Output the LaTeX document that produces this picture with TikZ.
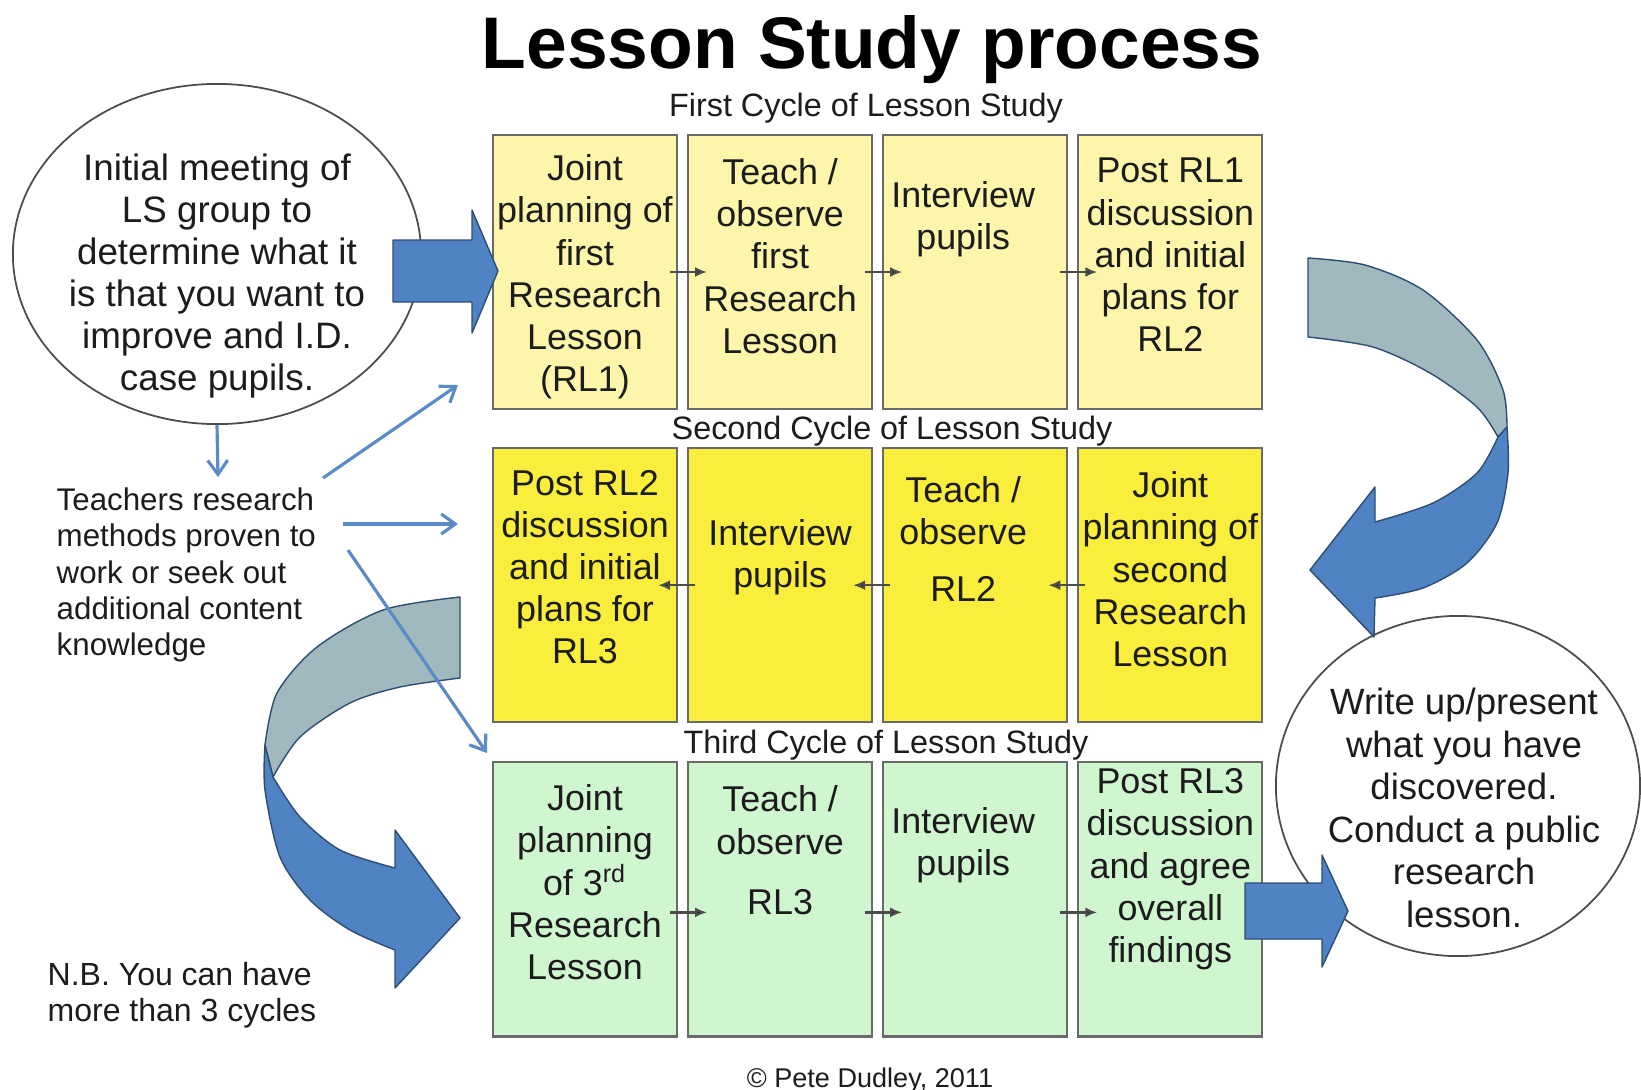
\documentclass[tikz,border=0pt]{standalone}
\usepackage{fontspec}
\setmainfont{Liberation Sans}
\usepackage{tikz}
\usetikzlibrary{positioning, shapes.geometric, arrows.meta}

\definecolor{paleyellow}{HTML}{FCF5AA}
\definecolor{brightyellow}{HTML}{F9EE3C}
\definecolor{palegreen}{HTML}{D0F6D0}
\definecolor{boxgray}{HTML}{6A6A6A}
\definecolor{arrowblue}{HTML}{4F83C4}
\definecolor{arrowedge}{HTML}{2F4C72}
\definecolor{backblue}{HTML}{A0B9BE}
\definecolor{feedblue}{HTML}{5A8BC6}
\definecolor{inkgray}{HTML}{1C1C1C}

\begin{document}
\begin{tikzpicture}[x=0.01cm, y=-0.01cm,
        box/.style={rectangle, draw=boxgray, line width=0.6pt, minimum width=1.84cm, minimum height=2.74cm, inner sep=0pt, outer sep=0pt},
        boxtext/.style={align=center, text=inkgray, inner sep=0pt, font=\fontsize{10.2}{12}\selectfont},
        cycletext/.style={text=inkgray, inner sep=0pt, font=\fontsize{9.2}{11}\selectfont},
        bubble/.style={ellipse, draw=black!70, line width=0.5pt, fill=white, inner sep=0pt},
        bubbletext/.style={align=center, text=inkgray, inner sep=0pt, font=\fontsize{10.4}{12.1}\selectfont},
        notetext/.style={align=left, text=inkgray, inner sep=0pt, anchor=west},
        stepline/.style={draw=black!70, line width=0.65pt, -{Latex[length=0.12cm, width=0.10cm, fill=black!90]}, shorten <=-0.07cm, shorten >=-0.19cm},
        feed/.style={draw=feedblue, line width=0.9pt, -{Straight Barb[length=0.14cm, width=0.2cm]}},
        blockarrow/.style={fill=arrowblue, draw=arrowedge, line width=0.4pt, line join=round},
        backband/.style={fill=backblue, draw=arrowedge, line width=0.4pt, line join=round}]

        \fill[white] (0, 0) rectangle (1641, 1090);
        \useasboundingbox (0, 0) rectangle (1641, 1090);

        \node[font=\fontsize{20.8}{24}\selectfont\bfseries, inner sep=0pt] (title) at (872, 50) {Lesson Study process};

        \node[bubble, minimum width=4.08cm, minimum height=3.40cm] (lell) at (217, 254) {};
        \node[bubble, minimum width=3.64cm, minimum height=3.40cm] (rell) at (1458, 786) {};
        \node[bubbletext, font=\fontsize{10.45}{11.95}\selectfont] (lelltext) at ([yshift=-0.22cm]lell.center) {Initial meeting of\\LS group to\\determine what it\\is that you want to\\improve and I.D.\\case pupils.};
        \node[bubbletext] (relltext) at ([xshift=0.06cm, yshift=-0.22cm]rell.center) {Write up/present\\what you have\\discovered.\\Conduct a public\\research\\lesson.};

        \draw[backband] plot[smooth] coordinates {(1308, 258) (1365, 265) (1423, 290) (1477, 340) (1503, 390) (1507, 427)} -- (1498, 437) -- plot[smooth] coordinates {(1498, 437) (1477, 407) (1430, 373) (1373, 347) (1308, 337)} -- cycle;
        \draw[blockarrow] plot[smooth] coordinates {(1507, 427) (1508, 473) (1497, 523) (1467, 563) (1423, 588) (1375, 598)} -- (1374, 637) -- (1310, 570) -- (1375, 487) -- plot[smooth] coordinates {(1375, 522) (1433, 503) (1477, 473) (1498, 437)} -- cycle;

        \draw[backband] plot[smooth] coordinates {(460, 597) (383, 610) (317, 647) (277, 693) (265, 745)} -- (273, 777) -- plot[smooth] coordinates {(273, 777) (300, 737) (350, 703) (400, 687) (460, 678)} -- cycle;
        \draw[blockarrow] plot[smooth] coordinates {(265, 745) (265, 790) (280, 857) (310, 900) (350, 930) (395, 950)} -- (395, 988) -- (460, 918) -- (395, 830) -- plot[smooth] coordinates {(395, 868) (340, 850) (300, 817) (273, 777)} -- cycle;

        \node[box, fill=paleyellow] (r1c1) at (585, 272) {};
        \node[box, fill=paleyellow] (r1c2) [right = 0.11cm of r1c1] {};
        \node[box, fill=paleyellow] (r1c3) [right = 0.11cm of r1c2] {};
        \node[box, fill=paleyellow] (r1c4) [right = 0.11cm of r1c3] {};
        \node[box, fill=brightyellow] (r2c1) [below = 0.39cm of r1c1] {};
        \node[box, fill=brightyellow] (r2c2) [right = 0.11cm of r2c1] {};
        \node[box, fill=brightyellow] (r2c3) [right = 0.11cm of r2c2] {};
        \node[box, fill=brightyellow] (r2c4) [right = 0.11cm of r2c3] {};
        \node[box, fill=palegreen] (r3c1) [below = 0.40cm of r2c1] {};
        \node[box, fill=palegreen] (r3c2) [right = 0.11cm of r3c1] {};
        \node[box, fill=palegreen] (r3c3) [right = 0.11cm of r3c2] {};
        \node[box, fill=palegreen] (r3c4) [right = 0.11cm of r3c3] {};

        \node[cycletext] (cycle1) at (866, 108) {First Cycle of Lesson Study};
        \node[cycletext] (cycle2) at (892, 431) {Second Cycle of Lesson Study};
        \node[cycletext] (cycle3) at (886, 745) {Third Cycle of Lesson Study};

        \node[boxtext] (t11) at ([yshift=-1.42cm]r1c1.north) {Joint\\planning of\\first\\Research\\Lesson\\(RL1)};
        \node[boxtext] (t12) at ([yshift=-1.21cm]r1c2.north) {Teach /\\observe\\first\\Research\\Lesson};
        \node[boxtext] (t13) at ([xshift=-0.12cm, yshift=-0.84cm]r1c3.north) {Interview\\pupils};
        \node[boxtext] (t14) at ([yshift=-1.20cm]r1c4.north) {Post RL1\\discussion\\and initial\\plans for\\RL2};
        \node[boxtext] (t21) at ([yshift=-1.19cm]r2c1.north) {Post RL2\\discussion\\and initial\\plans for\\RL3};
        \node[boxtext] (t22) at ([yshift=-1.09cm]r2c2.north) {Interview\\pupils};
        \node[boxtext] (t23) at ([xshift=-0.12cm, yshift=-0.91cm]r2c3.north) {Teach /\\observe\\[0.15cm]RL2};
        \node[boxtext] (t24) at ([yshift=-1.21cm]r2c4.north) {Joint\\planning of\\second\\Research\\Lesson};
        \node[boxtext] (t31) at ([yshift=-1.20cm]r3c1.north) {Joint\\planning\\of 3\textsuperscript{rd}\\Research\\Lesson};
        \node[boxtext] (t32) at ([yshift=-0.88cm]r3c2.north) {Teach /\\observe\\[0.18cm]RL3};
        \node[boxtext] (t33) at ([xshift=-0.12cm, yshift=-0.83cm]r3c3.north) {Interview\\pupils};
        \node[boxtext] (t34) at ([yshift=-1.07cm]r3c4.north) {Post RL3\\discussion\\and agree\\overall\\findings};

        \draw (r1c1.east) edge[stepline] (r1c2.west);
        \draw (r1c2.east) edge[stepline] (r1c3.west);
        \draw (r1c3.east) edge[stepline] (r1c4.west);
        \draw (r2c4.west) edge[stepline] (r2c3.east);
        \draw (r2c3.west) edge[stepline] (r2c2.east);
        \draw (r2c2.west) edge[stepline] (r2c1.east);
        \draw ([yshift=-0.13cm]r3c1.east) edge[stepline] ([yshift=-0.13cm]r3c2.west);
        \draw ([yshift=-0.13cm]r3c2.east) edge[stepline] ([yshift=-0.13cm]r3c3.west);
        \draw ([yshift=-0.13cm]r3c3.east) edge[stepline] ([yshift=-0.13cm]r3c4.west);

        \draw[blockarrow] (393, 240) -- (472, 240) -- (472, 210) -- (498, 271) -- (472, 333) -- (472, 302) -- (393, 302) -- cycle;
        \draw[blockarrow] (1245, 883) -- (1322, 883) -- (1322, 855) -- (1348, 911) -- (1322, 967) -- (1322, 939) -- (1245, 939) -- cycle;

        \node[notetext, font=\fontsize{8.9}{10.3}\selectfont] (methods) at (56, 575) {Teachers research\\methods proven to\\work or seek out\\additional content\\knowledge};
        \node[notetext, font=\fontsize{9.1}{10.4}\selectfont] (nb) at (47, 995) {N.B. You can have\\more than 3 cycles};

        \coordinate (downtip) at (218, 477);
        \coordinate (upfrom) at (323, 478);
        \coordinate (uptip) at (458, 385);
        \coordinate (acrossfrom) at (343, 524);
        \coordinate (acrosstip) at (458, 524);
        \coordinate (slopefrom) at (348, 550);
        \coordinate (slopetip) at (487, 753);
        \draw (lell.south) edge[feed] (downtip);
        \draw (upfrom) edge[feed] (uptip);
        \draw (acrossfrom) edge[feed] (acrosstip);
        \draw (slopefrom) edge[feed] (slopetip);

        \node[font=\fontsize{7.7}{9}\selectfont, text=inkgray, inner sep=0pt] (credit) at (870, 1080) {© Pete Dudley, 2011};
      \end{tikzpicture}
\end{document}
